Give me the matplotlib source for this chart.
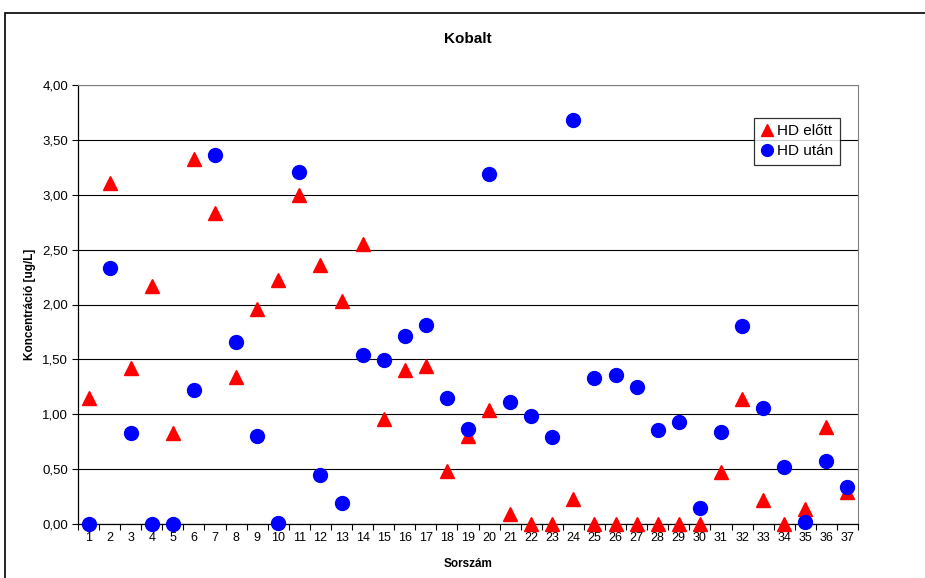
import matplotlib
matplotlib.use("Agg")
import matplotlib.pyplot as plt
from matplotlib.patches import Rectangle
from matplotlib.ticker import FuncFormatter, MultipleLocator

plt.rcParams['font.family'] = ['Liberation Sans', 'DejaVu Sans']

sorszam = list(range(1, 38))
hd_elott = [1.15, 3.11, 1.42, 2.17, 0.83, 3.33, 2.83, 1.34, 1.96, 2.22,
            3.00, 2.36, 2.03, 2.55, 0.96, 1.40, 1.44, 0.48, 0.80, 1.04,
            0.09, 0.00, 0.00, 0.23, 0.00, 0.00, 0.00, 0.00, 0.00, 0.00,
            0.47, 1.14, 0.22, 0.00, 0.14, 0.88, 0.29]
hd_utan = [0.00, 2.33, 0.83, 0.00, 0.00, 1.22, 3.36, 1.66, 0.80, 0.01,
           3.21, 0.45, 0.19, 1.54, 1.49, 1.71, 1.81, 1.15, 0.87, 3.19,
           1.11, 0.98, 0.79, 3.68, 1.33, 1.36, 1.25, 0.86, 0.93, 0.15,
           0.84, 1.80, 1.06, 0.52, 0.02, 0.57, 0.34]

W, H = 925, 578
fig = plt.figure(figsize=(W / 100, H / 100), dpi=100)
fig.patch.set_facecolor('white')

# outer chart border
fig.patches.append(Rectangle((4.5 / W, -0.05), 1.1, (H - 12.5) / H + 0.05,
                             transform=fig.transFigure, fill=False,
                             edgecolor='black', linewidth=1.2))

ax = fig.add_axes([78 / W, 1 - 524 / H, (858 - 78) / W, (524 - 85) / H])
ax.set_xlim(0.5, 37.5)
ax.set_ylim(0, 4)

ax.yaxis.set_major_locator(MultipleLocator(0.5))
ax.yaxis.set_major_formatter(FuncFormatter(lambda v, p: f"{v:.2f}".replace('.', ',')))
ax.grid(axis='y', color='black', linewidth=0.8)
ax.set_axisbelow(True)

ax.set_xticks(sorszam)
ax.set_xticklabels([str(s) for s in sorszam])
ax.set_xticks([i + 0.5 for i in range(0, 38)], minor=True)
ax.tick_params(axis='x', which='major', length=0, labelsize=9, pad=6)
ax.tick_params(axis='x', which='minor', length=4, direction='out', width=0.8)
ax.tick_params(axis='y', which='major', length=4, direction='out', width=0.8, labelsize=9.5, pad=3)

for side in ('top', 'right'):
    ax.spines[side].set_color('#808080')
    ax.spines[side].set_linewidth(0.8)
for side in ('left', 'bottom'):
    ax.spines[side].set_color('black')
    ax.spines[side].set_linewidth(0.9)

ax.plot(sorszam, hd_elott, linestyle='none', marker='^', markersize=9.5,
        color='#FF0000', label='HD előtt', clip_on=False, zorder=3)
ax.plot(sorszam, hd_utan, linestyle='none', marker='o', markersize=10,
        color='#0000FF', label='HD után', clip_on=False, zorder=4)

fig.text(468 / W, 1 - 39 / H, 'Kobalt', ha='center', va='center',
         fontsize=11, fontweight='bold')
fig.text(468 / W, 1 - 564 / H, 'Sorszám', ha='center', va='center',
         fontsize=8.5, fontweight='bold')
fig.text(30 / W, 1 - 304 / H, 'Koncentráció [ug/L]', ha='center', va='center',
         rotation=90, fontsize=8.5, fontweight='bold')

leg = ax.legend(loc='upper left', bbox_to_anchor=(754 / W, 1 - 117.5 / H),
                bbox_transform=fig.transFigure, frameon=True, fancybox=False,
                fontsize=11, handlelength=0.8, handletextpad=0.25,
                borderpad=0.45, labelspacing=0.4, borderaxespad=0,
                markerscale=0.85)
leg.get_frame().set_edgecolor('black')
leg.get_frame().set_linewidth(0.9)

fig.savefig('out.png', dpi=100, facecolor='white')
